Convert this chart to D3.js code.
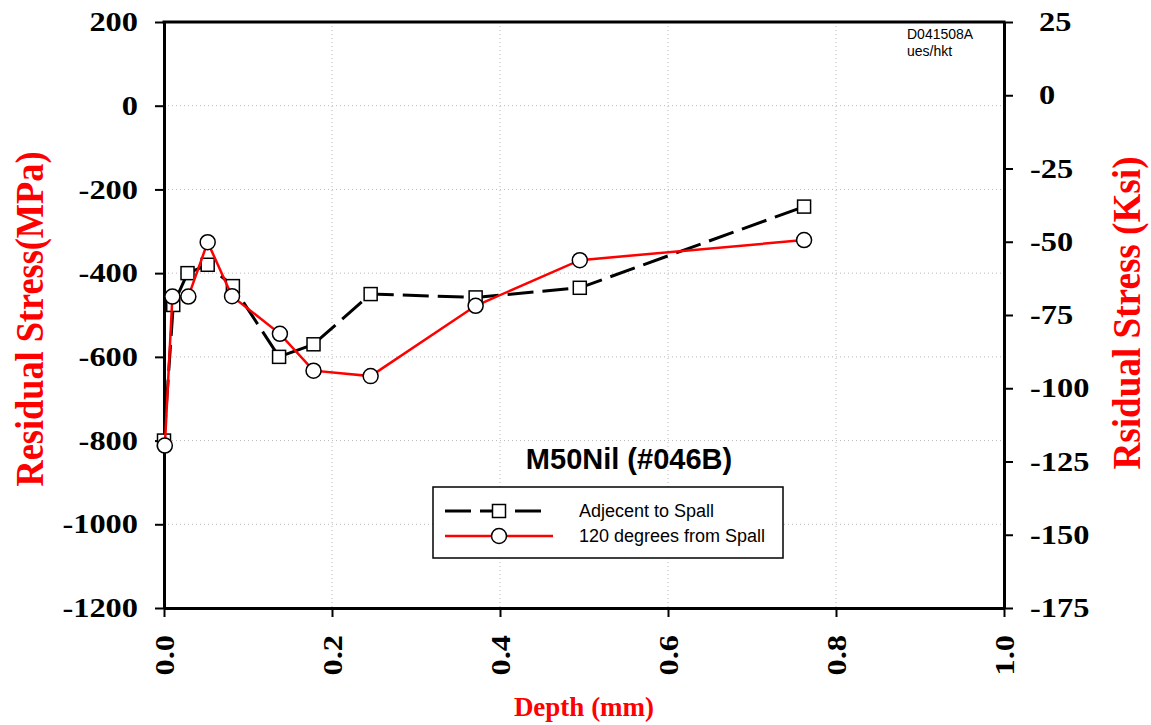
<!DOCTYPE html>
<html>
<head>
<meta charset="utf-8">
<script src="https://cdn.jsdelivr.net/npm/d3@7"></script>
<style>
  body { margin: 0; background: #fff; }
  svg { display: block; }
</style>
</head>
<body>
<script>
// depth in mm, stress in MPa
var adjDepth  = [0.000, 0.011, 0.028, 0.052, 0.082, 0.137, 0.178, 0.246, 0.371, 0.495, 0.762];
var adjStress = [-800, -476, -400, -380, -431, -600, -570, -450, -458, -435, -241];

var degDepth  = [0.001, 0.010, 0.029, 0.052, 0.081, 0.138, 0.178, 0.246, 0.371, 0.495, 0.762];
var degStress = [-812, -456, -456, -326, -455, -545, -633, -646, -478, -369, -321];

var xTicks = [0, 0.2, 0.4, 0.6, 0.8, 1.0];
var yTicks = [200, 0, -200, -400, -600, -800, -1000, -1200];
var ksiTicks = [25, 0, -25, -50, -75, -100, -125, -150, -175];

var width = 1151, height = 725;
var margin = {top: 22, right: 147, bottom: 117, left: 164};

var svg = d3.select("body").append("svg")
    .attr("width", width)
    .attr("height", height);

var x = d3.scaleLinear().domain([0, 1]).range([margin.left, width - margin.right]);
var y = d3.scaleLinear().domain([-1200, 200]).range([height - margin.bottom, margin.top]);
var yKsi = d3.scaleLinear().domain([-175, 25]).range([height - margin.bottom, margin.top]);

var serif = "'Liberation Serif', 'Times New Roman', serif";
var sans = "'Liberation Sans', Arial, sans-serif";
var plain = d => String(d);   // hyphen minus, no thousands comma

// grid lines (dotted)
var grid = svg.append("g");
grid.selectAll("line.h")
    .data(yTicks.slice(1, -1))
  .enter().append("line")
    .attr("x1", x(0)).attr("x2", x(1))
    .attr("y1", d => y(d)).attr("y2", d => y(d))
    .attr("stroke", "#b8b8b8").attr("stroke-width", 1)
    .attr("stroke-dasharray", "1,3");
grid.selectAll("line.v")
    .data(xTicks.slice(1, -1))
  .enter().append("line")
    .attr("x1", d => x(d)).attr("x2", d => x(d))
    .attr("y1", y(200)).attr("y2", y(-1200))
    .attr("stroke", "#b8b8b8").attr("stroke-width", 1)
    .attr("stroke-dasharray", "1,3");

// axes
var xAxis = svg.append("g")
    .attr("transform", "translate(0," + y(-1200) + ")")
    .call(d3.axisBottom(x).tickValues(xTicks).tickSize(9).tickSizeOuter(0).tickFormat(d3.format(".1f")));
xAxis.selectAll("text")
    .attr("transform", "rotate(-90)")
    .attr("x", -27).attr("y", 0).attr("dy", "0.35em")
    .attr("text-anchor", "end");

var yAxis = svg.append("g")
    .attr("transform", "translate(" + x(0) + ",0)")
    .call(d3.axisLeft(y).tickValues(yTicks).tickSize(9).tickSizeOuter(0).tickFormat(plain));
yAxis.selectAll("text").attr("x", -26);

var yAxisR = svg.append("g")
    .attr("transform", "translate(" + x(1) + ",0)")
    .call(d3.axisRight(yKsi).tickValues(ksiTicks).tickSize(9).tickSizeOuter(0).tickFormat(plain));
yAxisR.selectAll("text")
    .attr("x", d => d >= 0 ? 35 : 26);

[xAxis, yAxis, yAxisR].forEach(function(a) {
  a.select(".domain").attr("stroke", "#000").attr("stroke-width", 3);
  a.selectAll(".tick line").attr("stroke", "#000").attr("stroke-width", 2);
  a.selectAll("text")
      .attr("fill", "#000")
      .style("font-family", serif)
      .style("font-weight", "bold")
      .style("font-size", "27px");
});

// top frame line
svg.append("line")
    .attr("x1", x(0) - 1.5).attr("x2", x(1) + 1.5)
    .attr("y1", y(200)).attr("y2", y(200))
    .attr("stroke", "#000").attr("stroke-width", 3);

// stretch tick labels a little wider, like the original
svg.selectAll(".tick text").each(function() {
  var len = this.getComputedTextLength();
  d3.select(this).attr("textLength", len * 1.2).attr("lengthAdjust", "spacingAndGlyphs");
});

// axis titles
svg.append("text")
    .attr("transform", "translate(43,319) rotate(-90)")
    .attr("text-anchor", "middle")
    .attr("textLength", 335).attr("lengthAdjust", "spacingAndGlyphs")
    .style("font-family", serif).style("font-weight", "bold").style("font-size", "40px")
    .attr("fill", "#ff0000")
    .text("Residual Stress(MPa)");

svg.append("text")
    .attr("transform", "translate(1140,313) rotate(-90)")
    .attr("text-anchor", "middle")
    .attr("textLength", 313).attr("lengthAdjust", "spacingAndGlyphs")
    .style("font-family", serif).style("font-weight", "bold").style("font-size", "40px")
    .attr("fill", "#ff0000")
    .text("Rsidual Stress (Ksi)");

svg.append("text")
    .attr("x", 584).attr("y", 716)
    .attr("text-anchor", "middle")
    .style("font-family", serif).style("font-weight", "bold").style("font-size", "27px")
    .attr("fill", "#ff0000")
    .text("Depth (mm)");

// chart label and id
svg.append("text")
    .attr("x", 629).attr("y", 469)
    .attr("text-anchor", "middle")
    .style("font-family", sans).style("font-weight", "bold").style("font-size", "29px")
    .text("M50Nil (#046B)");

var idText = svg.append("text")
    .style("font-family", sans).style("font-size", "14px");
idText.append("tspan").attr("x", 907).attr("y", 39).text("D041508A");
idText.append("tspan").attr("x", 907).attr("y", 56).text("ues/hkt");

// series
var adj = adjDepth.map((d, i) => [d, adjStress[i]]);
var deg = degDepth.map((d, i) => [d, degStress[i]]);

var line = d3.line().x(d => x(d[0])).y(d => y(d[1]));

svg.append("path")
    .datum(adj)
    .attr("d", line)
    .attr("fill", "none")
    .attr("stroke", "#000").attr("stroke-width", 3)
    .attr("stroke-dasharray", "26,9");

svg.selectAll("rect.adj")
    .data(adj)
  .enter().append("rect")
    .attr("class", "adj")
    .attr("x", d => x(d[0]) - 6.5).attr("y", d => y(d[1]) - 6.5)
    .attr("width", 13).attr("height", 13)
    .attr("fill", "#fff").attr("stroke", "#000").attr("stroke-width", 1.5);

svg.append("path")
    .datum(deg)
    .attr("d", line)
    .attr("fill", "none")
    .attr("stroke", "#ff0000").attr("stroke-width", 2.5);

svg.selectAll("circle.deg")
    .data(deg)
  .enter().append("circle")
    .attr("class", "deg")
    .attr("cx", d => x(d[0])).attr("cy", d => y(d[1]))
    .attr("r", 7.5)
    .attr("fill", "#fff").attr("stroke", "#000").attr("stroke-width", 1.5);

// legend
var legend = svg.append("g");
legend.append("rect")
    .attr("x", 433).attr("y", 487)
    .attr("width", 350).attr("height", 71)
    .attr("fill", "#fff").attr("stroke", "#000").attr("stroke-width", 1.5);

legend.append("line")
    .attr("x1", 445).attr("x2", 542)
    .attr("y1", 511).attr("y2", 511)
    .attr("stroke", "#000").attr("stroke-width", 3)
    .attr("stroke-dasharray", "26,9");
legend.append("rect")
    .attr("x", 492.5).attr("y", 504.5).attr("width", 13).attr("height", 13)
    .attr("fill", "#fff").attr("stroke", "#000").attr("stroke-width", 1.5);
legend.append("text")
    .attr("x", 579).attr("y", 517)
    .style("font-family", sans).style("font-size", "18px")
    .text("Adjecent to Spall");

legend.append("line")
    .attr("x1", 445).attr("x2", 553)
    .attr("y1", 536).attr("y2", 536)
    .attr("stroke", "#ff0000").attr("stroke-width", 2.5);
legend.append("circle")
    .attr("cx", 499).attr("cy", 536).attr("r", 7.5)
    .attr("fill", "#fff").attr("stroke", "#000").attr("stroke-width", 1.5);
legend.append("text")
    .attr("x", 579).attr("y", 542)
    .style("font-family", sans).style("font-size", "18px")
    .text("120 degrees from Spall");
</script>
</body>
</html>
